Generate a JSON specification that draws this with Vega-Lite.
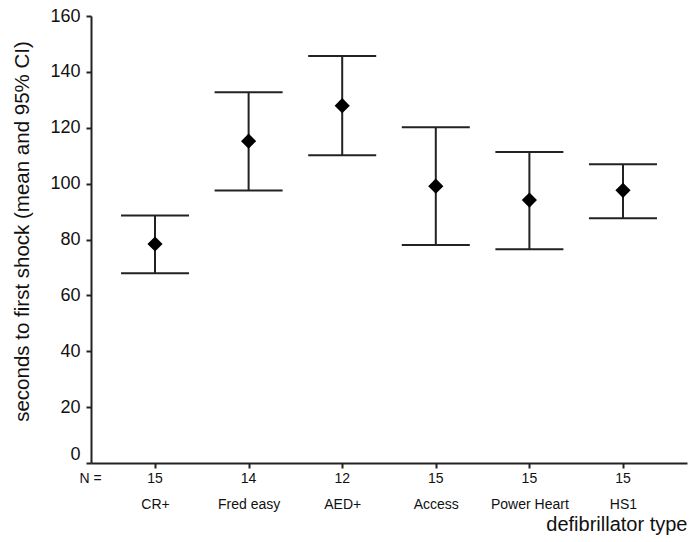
{
  "$schema": "https://vega.github.io/schema/vega-lite/v6.json",
  "width": 596,
  "height": 447,
  "autosize": {"type": "none"},
  "padding": {"left": 91, "top": 16, "right": 4, "bottom": 79},
  "background": "white",
  "config": {
    "view": {"stroke": null},
    "font": "Liberation Sans",
    "axis": {"grid": false, "domainColor": "#222", "domainWidth": 2, "tickColor": "#222", "tickWidth": 2, "tickSize": 5, "labelColor": "#111", "titleColor": "#111", "titleFontWeight": "normal"}
  },
  "data": {
    "values": [
      {"type": "CR+", "n": 15, "mean": 78.4, "lower": 67.9, "upper": 88.6},
      {"type": "Fred easy", "n": 14, "mean": 115.2, "lower": 97.5, "upper": 132.7},
      {"type": "AED+", "n": 12, "mean": 127.9, "lower": 110.2, "upper": 145.7},
      {"type": "Access", "n": 15, "mean": 99.1, "lower": 78.0, "upper": 120.2},
      {"type": "Power Heart", "n": 15, "mean": 94.1, "lower": 76.5, "upper": 111.3},
      {"type": "HS1", "n": 15, "mean": 97.6, "lower": 87.6, "upper": 106.9}
    ]
  },
  "encoding": {
    "x": {
      "field": "type",
      "type": "nominal",
      "sort": null,
      "scale": {"type": "point", "padding": 0.684},
      "axis": {
        "title": "defibrillator type",
        "labelAngle": 0,
        "labelFontSize": 14,
        "labelPadding": 29,
        "titleFontSize": 20,
        "titleAnchor": "end",
        "titleAlign": "right",
        "titleBaseline": "middle",
        "titleX": 596,
        "titleY": 61
      }
    }
  },
  "layer": [
    {
      "mark": {"type": "rule", "strokeWidth": 2, "color": "#222"},
      "encoding": {
        "y": {
          "field": "lower",
          "type": "quantitative",
          "scale": {"domain": [0, 160]},
          "axis": {
            "title": "seconds to first shock (mean and 95% CI)",
            "values": [0, 20, 40, 60, 80, 100, 120, 140, 160],
            "labelFontSize": 18,
            "labelPadding": 6,
            "labelBaseline": {"condition": {"test": "datum.value === 0", "value": "bottom"}, "value": "middle"},
            "titleFontSize": 20.5,
            "titleAngle": -90,
            "titleAlign": "center",
            "titleBaseline": "middle",
            "titleX": -69,
            "titleY": 215
          }
        },
        "y2": {"field": "upper"}
      }
    },
    {
      "mark": {"type": "tick", "size": 68, "thickness": 2, "color": "#222", "opacity": 1},
      "encoding": {"y": {"field": "upper", "type": "quantitative"}}
    },
    {
      "mark": {"type": "tick", "size": 68, "thickness": 2, "color": "#222", "opacity": 1},
      "encoding": {"y": {"field": "lower", "type": "quantitative"}}
    },
    {
      "mark": {"type": "point", "shape": "diamond", "filled": true, "size": 230, "color": "black", "opacity": 1},
      "encoding": {"y": {"field": "mean", "type": "quantitative"}}
    },
    {
      "mark": {"type": "text", "dy": 16, "fontSize": 14, "baseline": "middle", "color": "#111"},
      "encoding": {"y": {"datum": 0}, "text": {"field": "n"}}
    },
    {
      "transform": [{"filter": "datum.type === 'CR+'"}],
      "mark": {"type": "text", "text": "N =", "dx": -64.5, "dy": 16, "fontSize": 14, "baseline": "middle", "color": "#111"},
      "encoding": {"y": {"datum": 0}}
    }
  ]
}
